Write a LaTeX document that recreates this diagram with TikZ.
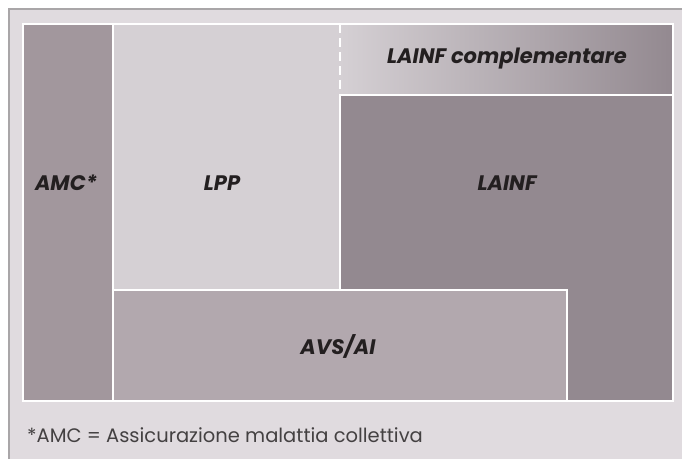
\documentclass[tikz,border=0pt]{standalone}
\usepackage{fontspec}
\setmainfont{Poppins}
\definecolor{panel}{HTML}{E0DBDF}
\definecolor{rim}{HTML}{A9A6A8}
\definecolor{amccol}{HTML}{A2979D}
\definecolor{lppcol}{HTML}{D5D0D4}
\definecolor{lainfcol}{HTML}{938990}
\definecolor{avscol}{HTML}{B2A8AE}
\definecolor{labcol}{HTML}{231F20}
\begin{document}
\begin{tikzpicture}[x=1pt, y=-1pt,
    sep/.style = {draw=white, line width=2pt},
    lab/.style = {text=labcol, font=\fontsize{21}{21}\selectfont\bfseries\itshape, inner sep=0pt},
    note/.style = {text=labcol!85, font=\fontsize{19.5}{19.5}\selectfont, anchor=base west, inner sep=0pt}]
    \useasboundingbox (0,0) rectangle (682,459);
    \fill[panel] (9,9) rectangle (682,459);
    \draw[rim, line width=1.2pt] (9,459) -- (9,9) -- (682,9);

    \fill[amccol] (23,24) rectangle (113,401);
    \fill[lppcol] (113,24) rectangle (340,290);
    \shade[left color=lppcol, right color=lainfcol] (340,24) rectangle (673,95);
    \fill[lainfcol] (340,95) rectangle (673,401);
    \fill[avscol] (113,290) rectangle (567,401);

    \draw[sep] (23,24) rectangle (673,401);
    \draw[sep] (113,24) -- (113,401);
    \draw[sep] (340,95) -- (673,95);
    \draw[sep] (340,95) -- (340,290);
    \draw[sep] (113,290) rectangle (567,401);
    \draw[sep, dash pattern=on 9pt off 5pt] (340,24) -- (340,95);

    \node[lab] at (66,183) (amc) {AMC*};
    \node[lab] at (222,183) (lpp) {LPP};
    \node[lab] at (507,183) (lainf) {LAINF};
    \node[lab] at (507,59) (compl) {LAINF complementare};
    \node[lab] at (338,346) (avs) {AVS/AI};
    \node[note] at (27,442) (foot) {*AMC = Assicurazione malattia collettiva};
\end{tikzpicture}
\end{document}
